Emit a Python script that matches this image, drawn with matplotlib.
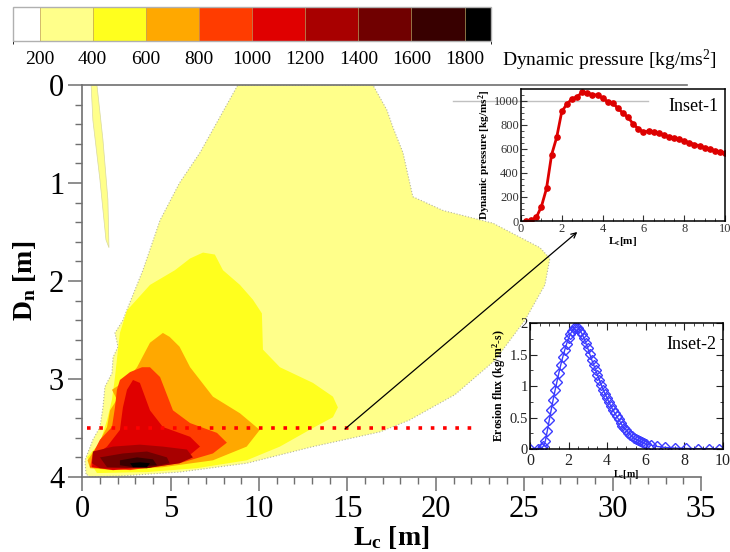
import matplotlib
matplotlib.use("Agg")
import matplotlib.pyplot as plt
from matplotlib.colors import ListedColormap, BoundaryNorm
from matplotlib.cm import ScalarMappable
from matplotlib.ticker import MultipleLocator, FuncFormatter

plt.rcParams['font.family'] = ['Liberation Serif', 'DejaVu Serif']
plt.rcParams['mathtext.fontset'] = 'custom'
plt.rcParams['mathtext.rm'] = 'Liberation Serif'
plt.rcParams['mathtext.it'] = 'Liberation Serif:italic'
plt.rcParams['mathtext.bf'] = 'Liberation Serif:bold'

# contour levels of dynamic pressure and their colours
levels = [200, 400, 600, 800, 1000, 1200, 1400, 1600, 1800]
level_colors = ['#ffffff', '#ffff8a', '#ffff1e', '#ffa800', '#ff3c00',
                '#e00000', '#a80000', '#700000', '#380000', '#000000']

# outlines (Lc [m], Dn [m]) of the regions above each level
region_200 = [(0.21, 3.97), (0.15, 3.83), (0.6, 3.62), (1.0, 3.49), (1.17, 3.29),
              (1.28, 3.08), (1.68, 2.94), (1.74, 2.78), (2.02, 2.67), (1.85, 2.53),
              (2.3, 2.4), (2.58, 2.27), (3.43, 1.89), (4.4, 1.38), (5.5, 1.0),
              (6.66, 0.69), (8.8, 0.0), (16.44, 0.0), (17.23, 0.255), (17.57, 0.43),
              (18.14, 0.69), (18.7, 1.14), (20.4, 1.28), (23.23, 1.41), (25.89, 1.66),
              (26.45, 1.77), (26.17, 2.04), (25.04, 2.4), (23.34, 2.81), (21.08, 3.16),
              (18.5, 3.42), (16.84, 3.54), (13.05, 3.69), (9.3, 3.86), (5.5, 3.95),
              (2.13, 3.99), (0.44, 4.0)]
region_200_top = [(0.5, 0.0), (0.83, 0.0), (1.17, 0.56), (1.45, 1.17), (1.51, 1.66),
                  (1.34, 1.58), (1.0, 0.97), (0.6, 0.36)]
region_400 = [(0.83, 3.96), (0.27, 3.8), (1.0, 3.65), (1.4, 3.42), (1.68, 3.21),
              (1.85, 2.98), (2.02, 2.7), (2.13, 2.53), (2.53, 2.3), (3.83, 2.04),
              (5.24, 1.89), (6.1, 1.77), (6.83, 1.71), (7.5, 1.73), (7.96, 1.89),
              (8.92, 2.04), (9.65, 2.19), (10.16, 2.33), (10.22, 2.7), (11.18, 2.88),
              (13.05, 3.04), (14.18, 3.18), (14.46, 3.29), (14.18, 3.39), (13.05, 3.5),
              (11.18, 3.69), (9.3, 3.83), (6.49, 3.91), (3.66, 3.95)]
region_600 = [(0.44, 3.91), (0.3, 3.83), (0.83, 3.69), (1.4, 3.49), (1.57, 3.32),
              (1.96, 3.21), (1.68, 3.11), (2.53, 3.01), (3.1, 2.88), (3.83, 2.63),
              (4.56, 2.53), (4.94, 2.57), (5.5, 2.67), (6.1, 2.88), (7.39, 3.18),
              (8.92, 3.35), (10.04, 3.52), (9.3, 3.69), (7.39, 3.83), (4.56, 3.9),
              (1.74, 3.93)]
region_800 = [(0.44, 3.9), (0.6, 3.76), (1.0, 3.62), (1.68, 3.49), (1.85, 3.29),
              (1.96, 3.11), (2.13, 3.01), (2.7, 2.93), (3.38, 2.88), (3.83, 2.88),
              (4.4, 2.98), (5.13, 3.32), (6.1, 3.45), (7.62, 3.55), (8.18, 3.65),
              (7.39, 3.76), (5.5, 3.86), (2.7, 3.93)]
region_1000 = [(0.55, 3.9), (0.6, 3.8), (1.4, 3.69), (2.13, 3.52), (2.3, 3.29),
               (2.53, 3.11), (2.87, 3.01), (3.26, 3.04), (3.83, 3.32), (4.56, 3.49),
               (6.1, 3.59), (6.66, 3.69), (5.92, 3.8), (3.66, 3.9), (1.74, 3.93)]
region_1200 = [(0.55, 3.86), (0.6, 3.74), (1.74, 3.69), (3.26, 3.67), (4.56, 3.69),
               (5.92, 3.72), (6.26, 3.8), (5.5, 3.86), (3.66, 3.91), (1.0, 3.91)]
region_1400 = [(1.0, 3.8), (2.3, 3.76), (3.66, 3.74), (4.79, 3.8), (4.94, 3.86),
               (3.66, 3.91), (1.4, 3.9)]
region_1600 = [(2.13, 3.83), (3.1, 3.8), (4.0, 3.82), (4.23, 3.88), (2.87, 3.9),
               (2.13, 3.88)]
region_1800 = [(2.7, 3.86), (3.26, 3.85), (3.83, 3.86), (3.66, 3.9), (2.87, 3.9)]

# section line and arrow to the inset
section_dn = 3.5
section_lc = [0.25, 22.4]
arrow_from = (14.86, 3.51)
arrow_to = (28.0, 1.5)

# inset 1: dynamic pressure along the section
p_lc = [0.25, 0.5, 0.75, 1.0, 1.25, 1.5, 1.75, 2.0, 2.25, 2.5, 2.75, 3.0, 3.25, 3.5,
        3.75, 4.0, 4.25, 4.5, 4.75, 5.0, 5.25, 5.5, 5.75, 6.0, 6.25, 6.5, 6.75, 7.0,
        7.25, 7.5, 7.75, 8.0, 8.25, 8.5, 8.75, 9.0, 9.25, 9.5, 9.75, 10.0]
p_val = [0, 5, 30, 120, 270, 550, 695, 910, 970, 1015, 1030, 1070, 1060, 1050,
         1045, 1020, 990, 980, 935, 895, 860, 805, 765, 740, 745, 735, 728, 715,
         700, 690, 680, 665, 650, 635, 625, 610, 598, 585, 575, 565]

# inset 2: erosion flux along the section
e_lc = [0.0, 0.4, 0.6, 0.7, 0.8, 0.9, 1.0, 1.1, 1.2, 1.3, 1.4, 1.5, 1.6, 1.7, 1.8,
        1.9, 2.0, 2.1, 2.2, 2.3, 2.4, 2.5, 2.6, 2.7, 2.8, 2.9, 3.0, 3.1, 3.2, 3.3,
        3.4, 3.5, 3.6, 3.7, 3.8, 3.9, 4.0, 4.1, 4.2, 4.3, 4.4, 4.5, 4.6, 4.7, 4.8,
        4.9, 5.0, 5.1, 5.2, 5.3, 5.4, 5.5, 5.6, 5.7, 5.8, 5.9, 6.0, 6.3, 6.6, 7.0,
        7.5, 8.1, 8.7, 9.3, 9.8]
e_val = [0.0, 0.0, 0.01, 0.05, 0.13, 0.29, 0.46, 0.62, 0.78, 0.93, 1.07, 1.21, 1.34,
         1.46, 1.57, 1.67, 1.76, 1.83, 1.88, 1.92, 1.93, 1.92, 1.88, 1.83, 1.76,
         1.68, 1.60, 1.51, 1.42, 1.34, 1.26, 1.18, 1.10, 1.02, 0.94, 0.87, 0.81,
         0.74, 0.68, 0.62, 0.57, 0.52, 0.47, 0.42, 0.37, 0.33, 0.30, 0.26, 0.23,
         0.20, 0.17, 0.155, 0.14, 0.12, 0.11, 0.09, 0.08, 0.06, 0.04, 0.025, 0.015,
         0.008, 0.004, 0.002, 0.001]

fig = plt.figure(figsize=(7.3, 5.52), dpi=100)

# ---- main map
ax = fig.add_axes([0.1127, 0.1359, 0.8476, 0.7101])
regions = [region_200, region_400, region_600, region_800, region_1000,
           region_1200, region_1400, region_1600, region_1800]
for i, reg in enumerate(regions):
    xs = [p[0] for p in reg]
    ys = [p[1] for p in reg]
    if i == 0:
        ax.fill(xs, ys, facecolor=level_colors[1], edgecolor='#b5b5a0', lw=0.8, ls=':')
        ax.fill([p[0] for p in region_200_top], [p[1] for p in region_200_top],
                facecolor=level_colors[1], edgecolor='#d8d8a0', lw=0.5)
    else:
        ax.fill(xs, ys, facecolor=level_colors[i + 1], lw=0)

ax.plot(section_lc, [section_dn, section_dn], color='#ff0000', lw=2.6,
        ls=(0, (1, 2.4)))
ax.annotate('', xy=arrow_to, xytext=arrow_from,
            arrowprops=dict(arrowstyle='->', color='black', lw=0.9,
                            shrinkA=0, shrinkB=0, mutation_scale=9),
            annotation_clip=False)

ax.set_xlim(0, 35)
ax.set_ylim(4, 0)
ax.xaxis.set_major_locator(MultipleLocator(5))
ax.xaxis.set_minor_locator(MultipleLocator(1))
ax.yaxis.set_major_locator(MultipleLocator(1))
ax.yaxis.set_minor_locator(MultipleLocator(0.2))
ax.tick_params(which='major', direction='out', length=10, width=1.1,
               color='#707070', labelsize=22, pad=3)
ax.tick_params(which='minor', direction='out', length=5, width=1,
               color='#707070')
for s in ['left', 'bottom', 'top']:
    ax.spines[s].set_color('#707070')
    ax.spines[s].set_linewidth(1.2)
ax.spines['right'].set_visible(False)
ax.spines['top'].set_bounds(0, 34.2)
ax.set_xlabel(r'L$_\mathbf{c}$ [m]', fontsize=20, fontweight='bold', labelpad=0)
ax.set_ylabel(r'D$_\mathbf{n}$ [m]', fontsize=20, fontweight='bold', labelpad=8)

# ---- colour bar
cax = fig.add_axes([0.0178, 0.9257, 0.655, 0.0616])
bounds = [100] + levels + [1900]
cmap = ListedColormap(level_colors)
norm = BoundaryNorm(bounds, cmap.N)
cb = fig.colorbar(ScalarMappable(norm=norm, cmap=cmap), cax=cax,
                  orientation='horizontal', boundaries=bounds, ticks=levels,
                  spacing='proportional', drawedges=True)
cb.outline.set_edgecolor('#b0b0b0')
cb.outline.set_linewidth(1)
cb.dividers.set_color('#c0a060')
cb.dividers.set_linewidth(0.5)
cax.tick_params(length=0, labelsize=14, pad=7)
fig.text(502 / 730, 1 - 60 / 552, 'Dynamic pressure [kg/ms$^2$]',
         fontsize=14, va='center', ha='left')

# ---- inset 1
ax1 = fig.add_axes([0.7137, 0.5996, 0.2795, 0.239])
ax1.plot(p_lc, p_val, color='#dd0000', lw=2, marker='o', ms=3.8)
ax1.set_xlim(0, 10)
ax1.set_ylim(0, 1095)
ax1.xaxis.set_major_locator(MultipleLocator(2))
ax1.xaxis.set_minor_locator(MultipleLocator(0.5))
ax1.yaxis.set_major_locator(MultipleLocator(200))
ax1.yaxis.set_minor_locator(MultipleLocator(50))
ax1.tick_params(which='both', direction='in', labelsize=9, pad=1.5,
                colors='#333333')
ax1.tick_params(which='major', length=4)
ax1.tick_params(which='minor', length=2)
ax1.axhline(1000, xmin=-0.333, xmax=0.62, color='#c0c0c0', lw=1, clip_on=False,
            zorder=0)
for s in ax1.spines.values():
    s.set_linewidth(1.1)
ax1.set_xlabel(r'L$_\mathbf{c}$[m]', fontsize=8, fontweight='bold', labelpad=0)
ax1.set_ylabel('Dynamic pressure [kg/ms$^\\mathbf{2}$]', fontsize=8,
               fontweight='bold', labelpad=1)
ax1.text(0.72, 0.87, 'Inset-1', transform=ax1.transAxes, fontsize=13,
         va='center', ha='left')

# ---- inset 2
ax2 = fig.add_axes([0.726, 0.1866, 0.264, 0.228])
ax2.plot(e_lc, e_val, color='#3c3cff', lw=1, marker='D', ms=4.6,
         mfc='none', mew=1)
ax2.set_xlim(0, 10)
ax2.set_ylim(0, 2)
ax2.xaxis.set_major_locator(MultipleLocator(2))
ax2.xaxis.set_minor_locator(MultipleLocator(0.5))
ax2.yaxis.set_major_locator(MultipleLocator(0.5))
ax2.yaxis.set_minor_locator(MultipleLocator(0.25))
ax2.yaxis.set_major_formatter(FuncFormatter(lambda v, p: '{:g}'.format(v)))
ax2.tick_params(which='both', direction='in', top=True, right=True,
                labelsize=10.5, pad=1.5, colors='#222222')
ax2.tick_params(axis='x', labelsize=11.5, pad=3)
ax2.tick_params(which='major', length=5)
ax2.tick_params(which='minor', length=2.5)
for s in ax2.spines.values():
    s.set_linewidth(1.1)
ax2.set_xlabel(r'L$_\mathbf{c}$[m]', fontsize=7, fontweight='bold', labelpad=-1)
ax2.set_ylabel('Erosion flux (kg/m$^\\mathbf{2}$-s)', fontsize=8.5,
               fontweight='bold', labelpad=1)
ax2.text(0.71, 0.83, 'Inset-2', transform=ax2.transAxes, fontsize=13,
         va='center', ha='left')

fig.savefig('out.png', dpi=100)
